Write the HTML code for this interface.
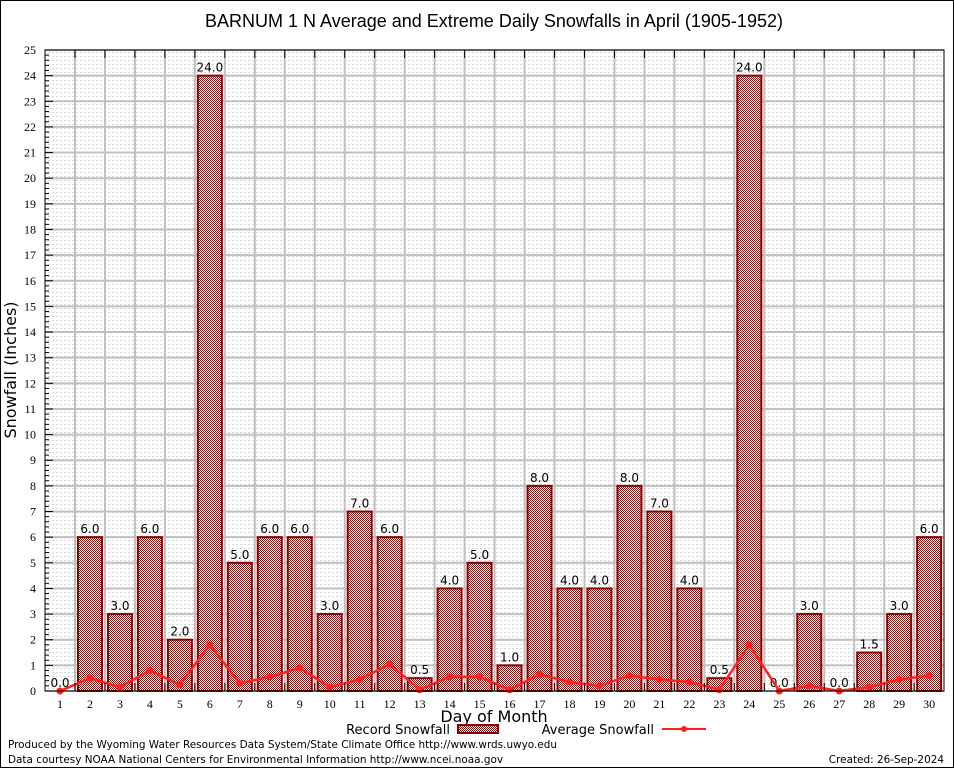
<!DOCTYPE html>
<html><head><meta charset="utf-8"><style>
body{margin:0;background:#fff;}
svg{display:block;}
.ser{font-family:"Liberation Serif",serif;font-size:12px;fill:#000;}
.san{font-family:"DejaVu Sans","Liberation Sans",sans-serif;fill:#000;}
</style></head><body>
<svg id="chart" width="954" height="768" xmlns="http://www.w3.org/2000/svg">
<defs>
<pattern id="chk" width="2" height="2" patternUnits="userSpaceOnUse">
<rect width="2" height="2" fill="#fff"/><rect width="1" height="1" fill="#b00000"/><rect x="1" y="1" width="1" height="1" fill="#b00000"/>
</pattern>
<pattern id="dots" width="4" height="4" patternUnits="userSpaceOnUse">
<rect width="4" height="4" fill="#fff"/><rect width="2" height="1" fill="#d8d8d8"/>
</pattern>
</defs>
<rect x="0.5" y="0.5" width="953" height="767" fill="#fff" stroke="#000"/>
<text x="494" y="27" text-anchor="middle" class="san" style="font-size:18px;font-family:'Liberation Sans',sans-serif">BARNUM 1 N Average and Extreme Daily Snowfalls in April (1905-1952)</text>
<rect x="45" y="50" width="899" height="641" fill="url(#dots)"/>
<g id="grid"></g>
<g id="bars"></g>
<g id="line"></g>
<g id="axes"></g>
<text transform="translate(16,370) rotate(-90)" text-anchor="middle" class="san" style="font-size:16px">Snowfall (Inches)</text>
<text x="494" y="722" text-anchor="middle" class="san" style="font-size:16px">Day of Month</text>
<g>
<text x="450" y="734" text-anchor="end" class="san" style="font-size:13px">Record Snowfall</text>
<rect x="458" y="725" width="40" height="8" fill="url(#chk)" stroke="#8b0000" stroke-width="2"/>
</g>
<g>
<text x="654" y="734" text-anchor="end" class="san" style="font-size:13px">Average Snowfall</text>
<line x1="662" y1="729" x2="706" y2="729" stroke="#ff2020" stroke-width="2"/>
<circle cx="684" cy="729" r="3" fill="#ff2020"/>
</g>
<text x="8" y="748" class="san" style="font-size:10.45px">Produced by the Wyoming Water Resources Data System/State Climate Office http://www.wrds.uwyo.edu</text>
<text x="8" y="763" class="san" style="font-size:10.45px">Data courtesy NOAA National Centers for Environmental Information http://www.ncei.noaa.gov</text>
<text x="944" y="763" text-anchor="end" class="san" style="font-size:10.45px">Created:  26-Sep-2024</text>
</svg>
<script>
const days=[1,2,3,4,5,6,7,8,9,10,11,12,13,14,15,16,17,18,19,20,21,22,23,24,25,26,27,28,29,30];
const recordSnow=[0.0,6.0,3.0,6.0,2.0,24.0,5.0,6.0,6.0,3.0,7.0,6.0,0.5,4.0,5.0,1.0,8.0,4.0,4.0,8.0,7.0,4.0,0.5,24.0,0.0,3.0,0.0,1.5,3.0,6.0];
const avgSnow=[0.0,0.5,0.15,0.8,0.25,1.8,0.3,0.55,0.9,0.15,0.45,1.05,0.05,0.55,0.55,0.05,0.65,0.35,0.2,0.6,0.45,0.35,0.05,1.8,0.0,0.2,0.0,0.15,0.45,0.6];
const yTicks=[0,1,2,3,4,5,6,7,8,9,10,11,12,13,14,15,16,17,18,19,20,21,22,23,24,25];
const NS='http://www.w3.org/2000/svg';
const L=45,R=944,T=50,B=691;
const x=d=>60+(d-1)*29.97;
const y=v=>B-(v/25)*(B-T);
function mk(tag,attrs,parent,txt){const e=document.createElementNS(NS,tag);for(const k in attrs)e.setAttribute(k,attrs[k]);if(txt!==undefined)e.textContent=txt;parent.appendChild(e);return e;}
const grid=document.getElementById('grid'),bars=document.getElementById('bars'),line=document.getElementById('line'),axes=document.getElementById('axes');
yTicks.forEach(t=>{
  const yy=y(t);
  const g=mk('line',{x1:L,x2:R,y1:yy,y2:yy,stroke:'#c0c0c0','stroke-width':2},grid);
  
  
  mk('line',{x1:L,x2:L+8,y1:yy,y2:yy,stroke:'#000'},axes);
  const tl=mk('text',{x:L-9,y:yy+4,'text-anchor':'end',class:'ser'},axes,String(t));
  
  
  if(t<25){for(let i=1;i<5;i++){const my=y(t+i/5);mk('line',{x1:L,x2:L+4,y1:my,y2:my,stroke:'#000'},axes);}}
});
days.forEach(d=>{
  if(d<30){const gx=x(d)+15;const g=mk('line',{x1:gx,x2:gx,y1:T,y2:B,stroke:'#c0c0c0','stroke-width':2},grid);
  
  
  mk('line',{x1:gx,x2:gx,y1:T,y2:T+8,stroke:'#000'},axes);
  mk('line',{x1:gx,x2:gx,y1:B,y2:B-8,stroke:'#000'},axes);}
  const tl=mk('text',{x:x(d),y:B+17,'text-anchor':'middle',class:'ser'},axes,String(d));
  
  
});
recordSnow.forEach((v,i)=>{
  const cx=x(days[i]);
  if(v>0){const r=mk('rect',{x:cx-12,y:y(v),width:24,height:B-y(v),fill:'url(#chk)',stroke:'#8b0000','stroke-width':2},bars);
  
  }
  const lb=mk('text',{x:cx,y:y(v)-4,'text-anchor':'middle',class:'san',style:'font-size:12px'},bars,v.toFixed(1));
  
  
});
const pts=avgSnow.map((v,i)=>x(days[i])+','+y(v)).join(' ');
const pl=mk('polyline',{points:pts,fill:'none',stroke:'#ff2020','stroke-width':2.5},line);


avgSnow.forEach((v,i)=>{const c=mk('circle',{cx:x(days[i]),cy:y(v),r:3.5,fill:'#ff2020'},line);
  
  });
const fr=mk('rect',{x:L,y:T,width:R-L,height:B-T,fill:'none',stroke:'#000'},axes);


</script>
</body></html>
